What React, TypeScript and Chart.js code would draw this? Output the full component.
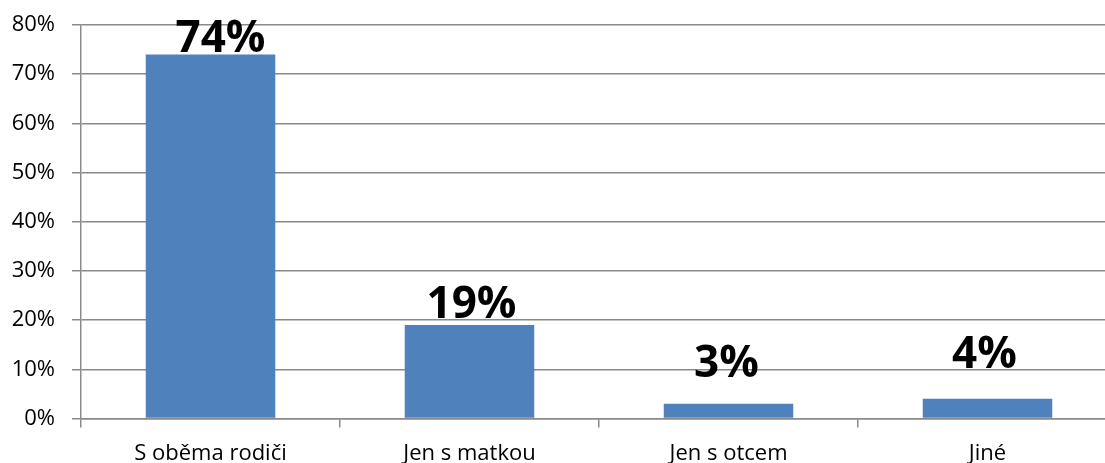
import React, { useEffect, useRef } from "react";
import { Chart, registerables } from "chart.js";

Chart.register(...registerables);

const categories = ["S oběma rodiči", "Jen s matkou", "Jen s otcem", "Jiné"];
const values = [74, 19, 3, 4];
const yTicks = [0, 10, 20, 30, 40, 50, 60, 70, 80];
// value-label placement relative to its bar (style only, px)
const labelLift = [3, 7, 27, 31];
const labelShift = [10, 2, -2, -3];

const FONT = "'Open Sans', 'Liberation Sans', sans-serif";
const GRID = "#8a8a8a";

const valueLabels = {
  id: "valueLabels",
  afterDatasetsDraw(chart: any) {
    const ctx = chart.ctx;
    const meta = chart.getDatasetMeta(0);
    ctx.save();
    ctx.font = `bold 44px ${FONT}`;
    ctx.fillStyle = "#000";
    ctx.textAlign = "center";
    ctx.textBaseline = "alphabetic";
    meta.data.forEach((bar: any, i: number) => {
      ctx.fillText(`${values[i]}%`, bar.x + labelShift[i], bar.y - labelLift[i]);
    });
    ctx.restore();
  },
};

export default function App() {
  const ref = useRef<HTMLCanvasElement>(null);
  useEffect(() => {
    if (!ref.current) return;
    const chart = new Chart(ref.current, {
      type: "bar",
      data: {
        labels: categories,
        datasets: [
          {
            data: values,
            backgroundColor: "#4F81BD",
            borderWidth: 0,
            barPercentage: 0.5,
            categoryPercentage: 1,
          },
        ],
      },
      options: {
        animation: false,
        responsive: false,
        devicePixelRatio: 1,
        layout: { padding: { top: 25, right: 3, left: 0, bottom: 0 } },
        plugins: { legend: { display: false }, tooltip: { enabled: false } },
        scales: {
          x: {
            afterFit: (s: any) => {
              s.height = 44.5;
              s.paddingLeft = 0;
              s.paddingRight = 0;
            },
            grid: {
              display: true,
              drawOnChartArea: false,
              drawTicks: true,
              tickLength: 9,
              color: GRID,
              lineWidth: 1.5,
              offset: true,
            },
            border: { display: true, color: GRID, width: 1.5 },
            ticks: {
              color: "#000",
              font: { family: FONT, size: 22 },
              padding: 13,
              maxRotation: 0,
              autoSkip: false,
            },
          },
          y: {
            min: 0,
            max: yTicks[yTicks.length - 1],
            afterFit: (s: any) => {
              s.width = 81;
              s.paddingTop = 0;
              s.paddingBottom = 0;
            },
            afterBuildTicks: (s: any) => {
              s.ticks = yTicks.map((v) => ({ value: v }));
            },
            grid: {
              color: GRID,
              lineWidth: 1.5,
              tickLength: 9,
              drawTicks: true,
            },
            border: { display: true, color: GRID, width: 1.5 },
            ticks: {
              color: "#000",
              font: { family: FONT, size: 22 },
              padding: 17,
              callback: (v: any) => `${v}%`,
            },
          },
        },
      },
      plugins: [valueLabels],
    });
    return () => chart.destroy();
  }, []);

  return (
    <div
      style={{
        position: "fixed",
        left: 0,
        top: 0,
        width: 1105,
        height: 463,
        overflow: "hidden",
        background: "#fff",
      }}
    >
      <canvas ref={ref} width={1120} height={463} style={{ display: "block" }} />
    </div>
  );
}
